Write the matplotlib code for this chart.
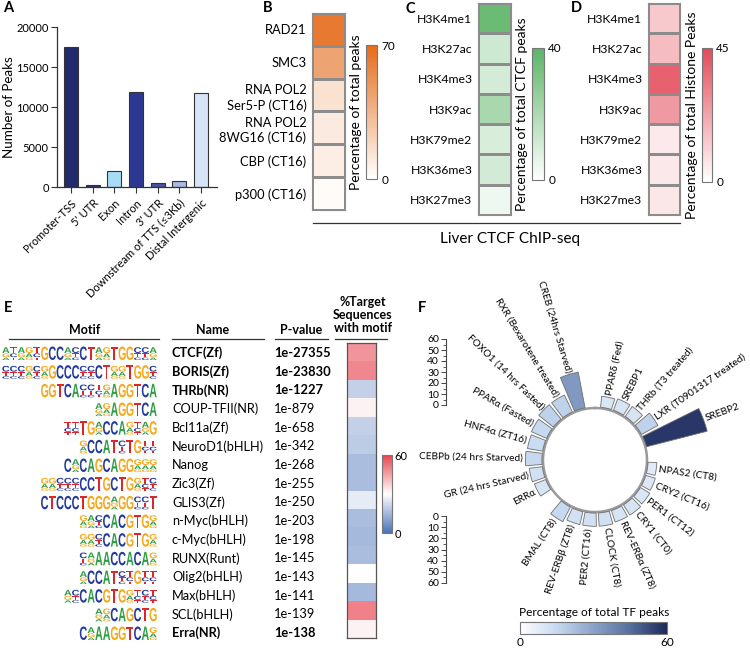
import numpy as np
import matplotlib
matplotlib.use("Agg")
import matplotlib.pyplot as plt
from matplotlib.colors import LinearSegmentedColormap, Normalize
from matplotlib.cm import ScalarMappable
from matplotlib.textpath import TextPath
from matplotlib.font_manager import FontProperties
from matplotlib.patches import PathPatch
from matplotlib.transforms import Affine2D
from matplotlib.ticker import MultipleLocator

plt.rcParams['font.family'] = ['Lato', 'DejaVu Sans']

W, H = 750, 648

# ---- data -----------------------------------------------------------------
# A: genomic annotation of CTCF peaks
genomic_regions = ['Promoter-TSS', "5' UTR", 'Exon', 'Intron', "3' UTR",
                   'Downstream of TTS (≤3Kb)', 'Distal Intergenic']
peak_counts = [17500, 200, 2000, 11900, 500, 750, 11750]
region_colors = ['#222a6e', '#2a2f72', '#a6dcf5', '#2d3893', '#4a539e',
                 '#aab8e2', '#d5e5f7']

# B: overlap with cohesin / pol2 / coactivators
cohesin_factors = ['RAD21', 'SMC3', 'RNA POL2\nSer5-P (CT16)',
                   'RNA POL2\n8WG16 (CT16)', 'CBP (CT16)', 'p300 (CT16)']
cohesin_pct = [63, 43, 14, 10, 8, 2]

# C, D: histone marks
histone_marks = ['H3K4me1', 'H3K27ac', 'H3K4me3', 'H3K9ac',
                 'H3K79me2', 'H3K36me3', 'H3K27me3']
ctcf_pct = [36, 12, 10.5, 21, 9.6, 10.8, 4]
histone_pct = [13.4, 16.7, 39, 25, 5.5, 5.8, 6.2]

# E: known motif enrichment (lowercase = weak logo position)
motif_names = ['CTCF(Zf)', 'BORIS(Zf)', 'THRb(NR)', 'COUP-TFII(NR)', 'Bcl11a(Zf)',
               'NeuroD1(bHLH)', 'Nanog', 'Zic3(Zf)', 'GLIS3(Zf)', 'n-Myc(bHLH)',
               'c-Myc(bHLH)', 'RUNX(Runt)', 'Olig2(bHLH)', 'Max(bHLH)',
               'SCL(bHLH)', 'Erra(NR)']
motif_logos = ['atagtGCCacCTagTGGcca', 'cccgcgGCCCccCTggTGGc', 'GGTCAcctgAGGTCA',
               'agAGGTCA', 'ttTGaCCAgtaG', 'gCCATcTGtt', 'CaCAGCAGGggg',
               'ggcccCCTGCTGgtc', 'CTCCCTGGGaGGccT', 'gacCACGTGg', 'ggcCACGTGg',
               'caAACCACAg', 'aCCATctGtt', 'acCACGTGgtct', 'agCAGCTG', 'CaAAGGTCAg']
motif_pvalues = ['1e-27355', '1e-23830', '1e-1227', '1e-879', '1e-658', '1e-342',
                 '1e-268', '1e-255', '1e-250', '1e-203', '1e-198', '1e-145',
                 '1e-143', '1e-141', '1e-139', '1e-138']
motif_target_pct = [47, 49, 20, 32, 20, 19, 16, 16, 26, 16, 15, 16, 30, 15, 50, 32]
bold_motifs = {'CTCF(Zf)', 'BORIS(Zf)', 'THRb(NR)', 'Erra(NR)'}

# F: overlap with liver TF cistromes, clockwise from top ('' = empty slot)
tf_names = ['PPARδ (Fed)', 'SREBP1', 'THRb (T3 treated)', 'LXR (T0901317 treated)',
            'SREBP2', '', 'NPAS2 (CT8)', 'CRY2 (CT16)', 'PER1 (CT12)', 'CRY1 (CT0)',
            'REV-ERBα (ZT8)', 'CLOCK (CT8)', 'PER2 (CT16)', 'REV-ERBβ (ZT8)',
            'BMAL (CT8)', '', 'ERRα', 'GR (24 hrs Starved)', 'CEBPb (24 hrs Starved)',
            'HNF4α (ZT16)', 'PPARα (Fasted)', 'FOXO1 (14 hrs Fasted)',
            'RXR (Bexarotene treated)', 'CREB (24hrs Starved)', '']
tf_pct = [10, 11, 11, 17, 57, 0, 8, 9, 10, 11, 11, 12, 12, 12, 15, 0,
          11, 12, 15, 14, 15, 17, 17, 33, 0]

# ---- helpers --------------------------------------------------------------
fig = plt.figure(figsize=(W / 100, H / 100), dpi=100)


def px_axes(x0, y0, x1, y1, **kw):
    return fig.add_axes([x0 / W, 1 - y1 / H, (x1 - x0) / W, (y1 - y0) / H], **kw)


canvas = px_axes(0, 0, W, H)
canvas.set_xlim(0, W)
canvas.set_ylim(H, 0)
canvas.axis('off')


def column_heatmap(box, values, labels, cmap, vmax, fs=8.8):
    ax = px_axes(*box)
    ax.pcolormesh(np.array(values, float).reshape(-1, 1), cmap=cmap, vmin=0, vmax=vmax,
                  edgecolors='#8c8c8c', linewidth=0.8)
    ax.set_ylim(len(values), 0)
    ax.set_xticks([])
    ax.set_yticks(np.arange(len(values)) + 0.5)
    ax.set_yticklabels(labels, fontsize=fs, linespacing=1.3)
    ax.tick_params(axis='y', length=0, pad=4)
    for s in ax.spines.values():
        s.set_color('#8c8c8c')
        s.set_linewidth(0.8)
    return ax


def vertical_cbar(box, cmap, vmax, label=None):
    cax = px_axes(*box)
    cb = fig.colorbar(ScalarMappable(Normalize(0, vmax), cmap), cax=cax)
    cb.set_ticks([0, vmax])
    cax.tick_params(length=0, labelsize=8.5, pad=3)
    cb.outline.set_edgecolor('#777777')
    cb.outline.set_linewidth(0.8)
    if label:
        cax.yaxis.set_label_position('left')
        cb.set_label(label, fontsize=10, labelpad=3)
    return cb


# ---- A --------------------------------------------------------------------
axa = px_axes(57, 27, 217, 187)
xa = np.arange(len(genomic_regions))
axa.bar(xa, peak_counts, width=0.65, color=region_colors, edgecolor='#333333', lw=0.8)
axa.set_xlim(-0.65, 6.75)
axa.set_ylim(0, 20000)
axa.set_yticks([0, 5000, 10000, 15000, 20000])
axa.set_xticks(xa)
axa.set_xticklabels(genomic_regions, rotation=45, ha='right', rotation_mode='anchor',
                    fontsize=8)
axa.tick_params(axis='y', labelsize=8, length=4, width=0.8, color='#333333', pad=2)
axa.tick_params(axis='x', length=4, width=0.8, color='#333333')
axa.set_ylabel('Number of Peaks', fontsize=9.6, labelpad=1)
for s in ['top', 'right']:
    axa.spines[s].set_visible(False)
for s in ['left', 'bottom']:
    axa.spines[s].set_color('#333333')
    axa.spines[s].set_linewidth(0.9)

# ---- B, C, D --------------------------------------------------------------
orange = LinearSegmentedColormap.from_list('orange', ['#ffffff', '#e46c1a'])
green = LinearSegmentedColormap.from_list('green', ['#ffffff', '#5cb466'])
red = LinearSegmentedColormap.from_list('red', ['#ffffff', '#e34a58'])

column_heatmap((312, 13, 345, 210), cohesin_pct, cohesin_factors, orange, 70, fs=9.3)
vertical_cbar((366, 45, 377, 179), orange, 70, 'Percentage of total peaks')
column_heatmap((478, 3, 511, 215), ctcf_pct, histone_marks, green, 40)
vertical_cbar((532, 48, 544, 180), green, 40, 'Percentage of total CTCF peaks')
column_heatmap((648, 3, 680, 215), histone_pct, histone_marks, red, 45)
vertical_cbar((702, 48, 712, 182), red, 45, 'Percentage of total Histone Peaks')

canvas.plot([313, 680], [223, 223], color='#333333', lw=0.9)
canvas.text(510, 239, 'Liver CTCF ChIP-seq', ha='center', va='center', fontsize=11)

# ---- E --------------------------------------------------------------------
base_colors = {'A': '#2e9e44', 'C': '#23399c', 'G': '#f5a81c', 'T': '#de2529'}
minor_base = {'A': 'G', 'C': 'T', 'G': 'A', 'T': 'C'}
logo_font = FontProperties(family='Liberation Sans', weight='bold')
letter_paths = {ch: TextPath((0, 0), ch, size=1, prop=logo_font) for ch in 'ACGT'}


def draw_letter(ch, x, ybot, w, h):
    p = letter_paths[ch]
    bb = p.get_extents()
    tr = (Affine2D().translate(-bb.x0, -bb.y0)
          .scale(w / bb.width, -h / bb.height).translate(x, ybot))
    canvas.add_patch(PathPatch(tr.transform_path(p), fc=base_colors[ch], ec='none', lw=0))


row_y = np.linspace(353, 633, len(motif_names))
lw_px = 7.75
for name, logo, pval, yc in zip(motif_names, motif_logos, motif_pvalues, row_y):
    x_start = 157 - len(logo) * lw_px
    base = yc + 7
    for i, ch in enumerate(logo):
        x = x_start + i * lw_px + 0.3
        if ch.isupper():
            draw_letter(ch, x, base, lw_px - 0.6, 13.5)
        else:
            c = ch.upper()
            c2 = minor_base[c]
            c3 = minor_base[c2]
            draw_letter(c3, x, base, lw_px - 0.6, 2.4)
            draw_letter(c2, x, base - 2.8, lw_px - 0.6, 3.8)
            draw_letter(c, x, base - 7.0, lw_px - 0.6, 5.8)
    wgt = 'bold' if name in bold_motifs else 'normal'
    canvas.text(172, yc, name, fontsize=9.2, fontweight=wgt, va='center', ha='left')
    canvas.text(274, yc, pval, fontsize=9.3, fontweight=wgt, va='center', ha='left')

hdr = dict(fontsize=9, fontweight='bold', ha='center', va='center')
canvas.text(85, 330, 'Motif', **hdr)
canvas.text(213, 330, 'Name', **hdr)
canvas.text(301, 330, 'P-value', **hdr)
canvas.text(363, 315, '%Target\nSequences\nwith motif', linespacing=1.05, **hdr)
for x0, x1 in [(9, 159), (172, 264), (275, 328), (335, 387)]:
    canvas.plot([x0, x1], [339, 339], color='#333333', lw=0.9)

div = LinearSegmentedColormap.from_list('div', ['#4a72b8', '#ffffff', '#e8434f'])
axe = px_axes(347, 343, 376, 638)
axe.pcolormesh(np.array(motif_target_pct, float).reshape(-1, 1), cmap=div, vmin=0, vmax=60)
axe.set_ylim(len(motif_target_pct), 0)
axe.set_xticks([])
axe.set_yticks([])
for s in axe.spines.values():
    s.set_color('#555555')
    s.set_linewidth(0.9)
cbe = vertical_cbar((382, 455, 392, 533), div, 60)
cbe.ax.tick_params(labelsize=8, pad=2)

# ---- F --------------------------------------------------------------------
tf_cmap = LinearSegmentedColormap.from_list(
    'tf', ['#ffffff', '#c6d9f0', '#8ba2c8', '#566f9d', '#1d2a5a'])
px_per_unit = 1.1
R0 = 52 / px_per_unit
axf = px_axes(595 - 140, 460 - 140, 595 + 140, 460 + 140, projection='polar')
axf.set_theta_zero_location('N')
axf.set_theta_direction(-1)
axf.set_ylim(0, 140 / px_per_unit)
axf.axis('off')

step = 360 / len(tf_names)
theta_deg = 12 + step * np.arange(len(tf_names))
circ = np.linspace(0, 2 * np.pi, 400)
axf.plot(circ, np.full_like(circ, R0), color='#9a9a9a', lw=1.8, zorder=1)
for name, val, td in zip(tf_names, tf_pct, theta_deg):
    if not name:
        continue
    th = np.deg2rad(td)
    axf.bar(th, val, width=np.deg2rad(12), bottom=R0 + 1,
            color=tf_cmap(val / 60), edgecolor='#6f6f6f', lw=0.6, zorder=2)
    if td < 180:
        rot, ha = 90 - td, 'left'
    else:
        rot, ha = 270 - td, 'right'
    axf.text(th, R0 + val + 3, name, rotation=rot, rotation_mode='anchor',
             ha=ha, va='center', fontsize=7.3)

for (y0, y1), flip in [((339, 405), False), ((516, 583), True)]:
    sax = px_axes(446, y0, 448, y1)
    sax.set_ylim((60, 0) if flip else (0, 60))
    sax.yaxis.set_major_locator(MultipleLocator(10))
    sax.yaxis.set_minor_locator(MultipleLocator(5))
    sax.set_xticks([])
    sax.tick_params(axis='y', which='major', length=3.5, width=0.7, labelsize=7.5, pad=1.5,
                    color='#444444')
    sax.tick_params(axis='y', which='minor', length=2, width=0.6, color='#444444')
    for s in ['top', 'bottom', 'right']:
        sax.spines[s].set_visible(False)
    sax.spines['left'].set_color('#444444')
    sax.spines['left'].set_linewidth(0.8)
    sax.patch.set_visible(False)

cfx = px_axes(520, 622, 667, 634)
cbf = fig.colorbar(ScalarMappable(Normalize(0, 60), tf_cmap), cax=cfx, orientation='horizontal')
cbf.set_ticks([0, 60])
cfx.tick_params(length=0, labelsize=8.5, pad=2)
cbf.outline.set_edgecolor('#777777')
cbf.outline.set_linewidth(0.8)
canvas.text(519, 613, 'Percentage of total TF peaks', fontsize=8.6, ha='left', va='center')

# ---- panel letters --------------------------------------------------------
for lab, x, y in [('A', 3, 8), ('B', 263, 8), ('C', 405, 9), ('D', 571, 8),
                  ('E', 4, 308), ('F', 418, 308)]:
    canvas.text(x, y, lab, fontsize=10.5, fontweight='bold', ha='left', va='center')

fig.savefig('out.png', dpi=100)
